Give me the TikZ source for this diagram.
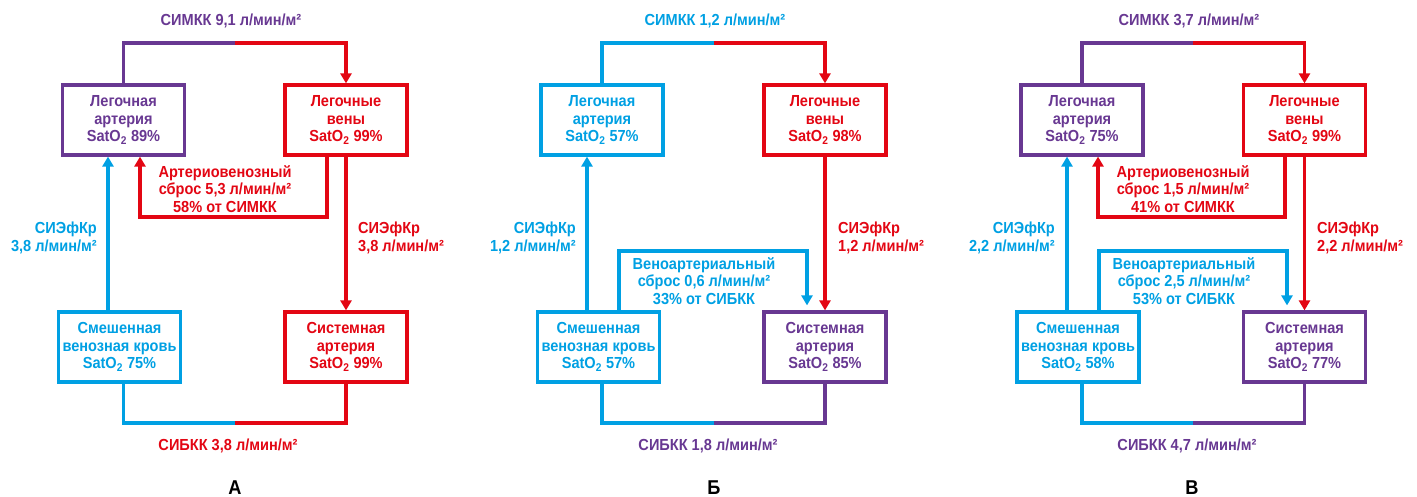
\documentclass[tikz,border=0pt]{standalone}
\usepackage{fontspec}
\setmainfont{Liberation Sans}[FakeStretch=0.91]
\usetikzlibrary{arrows.meta,calc}
\definecolor{cP}{RGB}{104,56,146}
\definecolor{cR}{RGB}{227,6,19}
\definecolor{cB}{RGB}{0,160,227}
\newcommand{\bxfont}{\fontsize{16}{17.5}\selectfont\bfseries}
\newcommand{\mq}{л/мин/м²}
\newcommand{\sat}{SatO\textsubscript{2}}
\tikzset{
  box/.style={draw, line width=3.2pt, minimum width=122pt, minimum height=70pt, inner sep=0pt, align=center, font=\bxfont},
  ln/.style={line width=3.2pt},
  arr/.style={line width=3.2pt, -{Triangle[length=10pt,width=11pt]}},
  lbl/.style={font=\bxfont, inner sep=0pt},
  letter/.style={font=\fontsize{20}{22}\selectfont\bfseries, inner sep=0pt, anchor=north},
}
\begin{document}
\begin{tikzpicture}[x=1pt,y=-1pt]
\useasboundingbox (0,0) rectangle (1417,497);

% ================= Panel A =================
\node[box,cP,text=cP] (laA) at (123.5,120) {Легочная\\артерия\\\sat{} 89\%};
\node[box,cR,text=cR] (lvA) at (346,120) {Легочные\\вены\\\sat{} 99\%};
\node[box,cB,text=cB] (svA) at (119.5,347) {Смешенная\\венозная кровь\\\sat{} 75\%};
\node[box,cR,text=cR] (saA) at (346,347) {Системная\\артерия\\\sat{} 99\%};
\coordinate (tA) at (235,43);
\coordinate (bA) at (235,423);
\coordinate (uA) at (108,0);
\coordinate (avA) at (140,217);
\coordinate (avA2) at (327,217);
\draw[ln,cP] (laA.north) |- (tA);
\draw[arr,cR] (tA) -| (lvA.north);
\draw[ln,cB] (svA.south -| laA.south) |- (bA);
\draw[ln,cR] (bA) -| (saA.south);
\draw[arr,cB] (svA.north -| uA) -- (laA.south -| uA);
\draw[arr,cR] (lvA.south) -- (saA.north);
\draw[arr,cR] (lvA.south -| avA2) -- (avA2) -- (avA) -- (laA.south -| avA);
\node[lbl,cP] (tlA) at (231,21) {СИМКК 9,1 \mq};
\node[lbl,cR] (blA) at (228,446) {СИБКК 3,8 \mq};
\node[lbl,cR,align=center] (shA) at (225,189) {Артериовенозный\\сброс 5,3 \mq\\58\% от СИМКК};
\node[lbl,cB,align=right,anchor=east] (lfA) at (97,238) {СИЭфКр\\3,8 \mq};
\node[lbl,cR,align=left,anchor=west] (rfA) at (358,238) {СИЭфКр\\3,8 \mq};
\node[letter] (LA) at (235,481) {А};

% ================= Panel B =================
\node[box,cB,text=cB] (laB) at (602,120) {Легочная\\артерия\\\sat{} 57\%};
\node[box,cR,text=cR] (lvB) at (825,120) {Легочные\\вены\\\sat{} 98\%};
\node[box,cB,text=cB] (svB) at (598.5,347) {Смешенная\\венозная кровь\\\sat{} 57\%};
\node[box,cP,text=cP] (saB) at (825,347) {Системная\\артерия\\\sat{} 85\%};
\coordinate (tB) at (714,43);
\coordinate (bB) at (714,423);
\coordinate (uB) at (587,0);
\coordinate (vaB1) at (619,251);
\coordinate (vaB2) at (807,251);
\draw[ln,cB] (laB.north) |- (tB);
\draw[arr,cR] (tB) -| (lvB.north);
\draw[ln,cB] (svB.south -| laB.south) |- (bB);
\draw[ln,cP] (bB) -| (saB.south);
\draw[arr,cB] (svB.north -| uB) -- (laB.south -| uB);
\draw[arr,cR] (lvB.south) -- (saB.north);
\draw[arr,cB,shorten >=5pt] (svB.north -| vaB1) -- (vaB1) -- (vaB2) -- (saB.north -| vaB2);
\node[lbl,cB] (tlB) at (715,21) {СИМКК 1,2 \mq};
\node[lbl,cP] (blB) at (708,446) {СИБКК 1,8 \mq};
\node[lbl,cB,align=center] (shB) at (704,281) {Веноартериальный\\сброс 0,6 \mq\\33\% от СИБКК};
\node[lbl,cB,align=right,anchor=east] (lfB) at (576,238) {СИЭфКр\\1,2 \mq};
\node[lbl,cR,align=left,anchor=west] (rfB) at (838,238) {СИЭфКр\\1,2 \mq};
\node[letter] (LB) at (714,481) {Б};

% ================= Panel C =================
\node[box,cP,text=cP] (laC) at (1082,120) {Легочная\\артерия\\\sat{} 75\%};
\node[box,cR,text=cR] (lvC) at (1304.5,120) {Легочные\\вены\\\sat{} 99\%};
\node[box,cB,text=cB] (svC) at (1078,347) {Смешенная\\венозная кровь\\\sat{} 58\%};
\node[box,cP,text=cP] (saC) at (1304.5,347) {Системная\\артерия\\\sat{} 77\%};
\coordinate (tC) at (1193,43);
\coordinate (bC) at (1193,423);
\coordinate (uC) at (1067,0);
\coordinate (avC) at (1098,217);
\coordinate (avC2) at (1285,217);
\coordinate (vaC1) at (1099,251);
\coordinate (vaC2) at (1287,251);
\draw[ln,cP] (laC.north) |- (tC);
\draw[arr,cR] (tC) -| (lvC.north);
\draw[ln,cB] (svC.south -| laC.south) |- (bC);
\draw[ln,cP] (bC) -| (saC.south);
\draw[arr,cB] (svC.north -| uC) -- (laC.south -| uC);
\draw[arr,cR] (lvC.south) -- (saC.north);
\draw[arr,cR] (lvC.south -| avC2) -- (avC2) -- (avC) -- (laC.south -| avC);
\draw[arr,cB,shorten >=5pt] (svC.north -| vaC1) -- (vaC1) -- (vaC2) -- (saC.north -| vaC2);
\node[lbl,cP] (tlC) at (1189,21) {СИМКК 3,7 \mq};
\node[lbl,cP] (blC) at (1187,446) {СИБКК 4,7 \mq};
\node[lbl,cR,align=center] (shC) at (1183,189) {Артериовенозный\\сброс 1,5 \mq\\41\% от СИМКК};
\node[lbl,cB,align=center] (vsC) at (1184,281) {Веноартериальный\\сброс 2,5 \mq\\53\% от СИБКК};
\node[lbl,cB,align=right,anchor=east] (lfC) at (1055,238) {СИЭфКр\\2,2 \mq};
\node[lbl,cR,align=left,anchor=west] (rfC) at (1317,238) {СИЭфКр\\2,2 \mq};
\node[letter] (LC) at (1192,481) {В};
\end{tikzpicture}
\end{document}
